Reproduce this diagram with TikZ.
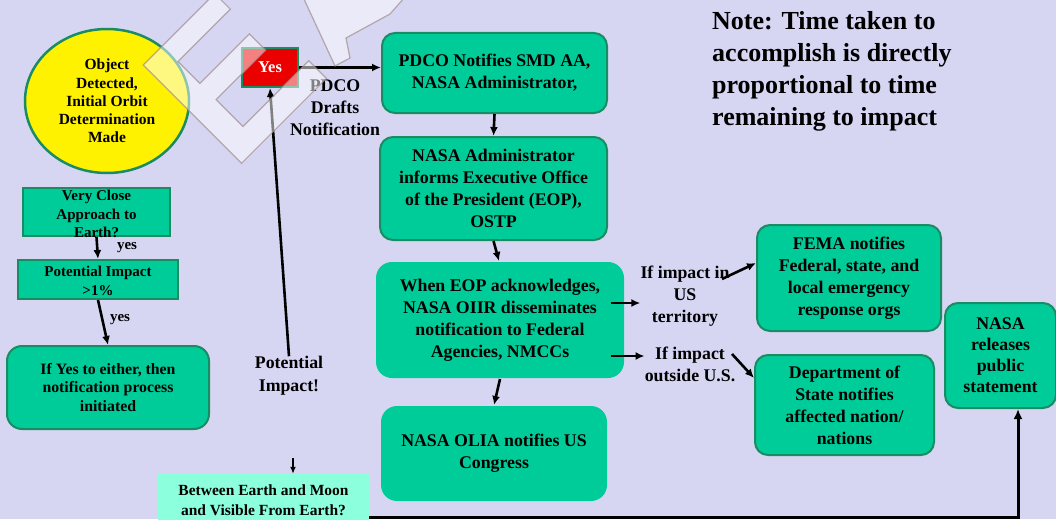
\documentclass[tikz,border=0pt]{standalone}
\usepackage{fontspec}
\setmainfont{Liberation Serif}
\usetikzlibrary{shapes.geometric,arrows.meta,calc}
\definecolor{bg}{RGB}{214,214,243}
\definecolor{gfill}{RGB}{0,204,153}
\definecolor{gline}{RGB}{26,140,100}
\definecolor{aqua}{RGB}{140,255,220}
\definecolor{wmline}{RGB}{160,140,140}
\definecolor{yesred}{RGB}{235,0,0}
\begin{document}
\begin{tikzpicture}[x=1pt,y=-1pt,
  gbox/.style={draw=gline, line width=2pt, fill=gfill, rounded corners=13pt, align=center, inner sep=0pt,
    font=\fontsize{17.8}{22}\selectfont\bfseries},
  nbox/.style={gbox, draw=none},
  sbox/.style={draw=gline, line width=2pt, fill=gfill, inner sep=0pt},
  stxt/.style={align=center, inner sep=0pt, font=\fontsize{15}{18.5}\selectfont\bfseries},
  lbl/.style={align=center, inner sep=0pt, font=\fontsize{17.8}{22}\selectfont\bfseries},
  arr/.style={-{Latex[length=9pt,width=8pt]}, line width=2.6pt},
  sarr/.style={-{Latex[length=7pt,width=6pt]}, line width=2pt}]
\fill[bg] (0,0) rectangle (1056,519);
\useasboundingbox (0,0) rectangle (1056,519);

% left column
\node[ellipse, draw=gline, line width=2.5pt, fill=yellow, minimum width=164pt, minimum height=144pt,
  inner sep=0pt, align=center, font=\fontsize{15.5}{18.3}\selectfont\bfseries] (obj) at (107,101)
  {Object\\Detected,\\Initial Orbit\\Determination\\Made};
\node[sbox, minimum width=147pt, minimum height=48pt] (verycl) at (96.5,212) {};
\node[stxt] (verycltxt) at (96.5,214) {Very Close\\Approach to\\Earth?};
\node[sbox, minimum width=160pt, minimum height=39pt] (pimp) at (98,279.5) {};
\node[stxt, font=\fontsize{15}{19}\selectfont\bfseries] (pimptxt) at (98,281) {Potential Impact\\>1\%};
\node[gbox, rounded corners=15pt, minimum width=202pt, minimum height=83pt,
  font=\fontsize{15.8}{18.5}\selectfont\bfseries] (ifyes) at (108,387.5)
  {If Yes to either, then\\notification process\\initiated};
\node[stxt] (yes1) at (127,248) {yes};
\node[stxt] (yes2) at (120,320) {yes};

% yes box and labels
\node[draw=gline, line width=2pt, fill=yesred, minimum width=56pt, minimum height=39pt, inner sep=0pt,
  text=white, font=\fontsize{16.5}{18}\selectfont\bfseries] (yes) at (270,67.5) {Yes};
\node[lbl] (drafts) at (335,108) {PDCO\\Drafts\\Notification};
\node[lbl, font=\fontsize{17.8}{23}\selectfont\bfseries] (potimp) at (289,376) {Potential\\Impact!};
\node[fill=aqua, minimum width=211pt, minimum height=46pt, inner sep=0pt] (between) at (263.5,497) {};
\node[stxt, font=\fontsize{15.5}{20}\selectfont\bfseries] (betweentxt) at (263.5,500)
  {Between Earth and Moon\\and Visible From Earth?};

% centre column
\node[gbox, minimum width=225pt, minimum height=80pt] (pdco) at (494.5,73)
  {PDCO Notifies SMD AA,\\NASA Administrator,};
\node[gbox, minimum width=227pt, minimum height=103pt] (admin) at (493.5,188.5)
  {NASA Administrator\\informs Executive Office\\of the President (EOP),\\OSTP};
\node[nbox, rounded corners=16pt, minimum width=248pt, minimum height=116pt] (eop) at (500,320)
  {When EOP acknowledges,\\NASA OIIR disseminates\\notification to Federal\\Agencies, NMCCs};
\node[nbox, rounded corners=16pt, minimum width=226pt, minimum height=95pt] (olia) at (494,453.5)
  {NASA OLIA notifies US\\Congress};
\node[lbl] (ifus) at (685,296) {If impact in\\US\\territory};
\node[lbl] (ifout) at (690,364) {If impact\\outside U.S.};

% right column
\node[gbox, minimum width=184pt, minimum height=106pt] (fema) at (849,278)
  {FEMA notifies\\Federal, state, and\\local emergency\\response orgs};
\node[gbox, minimum width=179pt, minimum height=100pt] (dos) at (844.5,405)
  {Department of\\State notifies\\affected nation/\\nations};
\node[gbox, minimum width=111pt, minimum height=105pt, font=\fontsize{17.8}{21}\selectfont\bfseries] (nasa) at (1000.5,355.5)
  {NASA\\releases\\public\\statement};
\node[anchor=north west, align=left, inner sep=0pt, font=\fontsize{26}{32}\selectfont\bfseries] (note) at (712,11)
  {Note: Time taken to\\accomplish is directly\\proportional to time\\remaining to impact};

% connectors
\draw[arr] (yes.east) -- (yes.east -| pdco.west);
\draw[arr] (pdco.south) -- (admin.north);
\draw[arr] (admin.south) -- ([xshift=-1pt]eop.north);
\draw[arr] (eop.south) -- (olia.north);
\coordinate (a1) at (611,303);
\coordinate (a2) at (611,356);
\draw[arr] (a1) -- (a1 -| ifus.west);
\draw[arr] (a2) -- (a2 -| ifout.west);
\coordinate (a3) at (722,279);
\coordinate (a4) at (732,354);
\draw[arr] (a3) -- ($(fema.west)+(0,-15)$);
\draw[arr] (a4) -- ($(dos.west)+(0,-27)$);
\draw[arr] (potimp.north) -- (yes.south);
\draw[arr] (verycl.south) -- (pimp.north);
\draw[arr] (pimp.south) -- (ifyes.north);
\coordinate (s1) at (293,458);
\draw[sarr] (s1) -- (s1 |- between.north);
\coordinate (b1) at (369,517);
\draw[-{Latex[length=10pt,width=9pt]}, line width=3pt] (b1) -| ($(nasa.south)+(17.5,0)$);

% watermark
\begin{scope}[shift={(143.3,65)}]
\begin{scope}[x={(0.707pt,0.707pt)}, y={(0.707pt,-0.707pt)}]
\filldraw[fill=white, fill opacity=0.5, draw=wmline, draw opacity=0.7, line width=1.2pt]
  (0,0) -- (101,0) -- (101,22) -- (27,22) -- (27,53) -- (97,53) -- (97,76) -- (27,76) -- (27,114)
  -- (120,114) -- (120,139) -- (0,139) -- cycle;
\end{scope}
\end{scope}
\filldraw[fill=white, fill opacity=0.5, draw=wmline, draw opacity=0.7, line width=1.2pt]
  (303,-3) -- (335,66) -- (350,58) -- (346,38) -- (390,14) -- (405,-3) -- cycle;
\end{tikzpicture}
\end{document}
